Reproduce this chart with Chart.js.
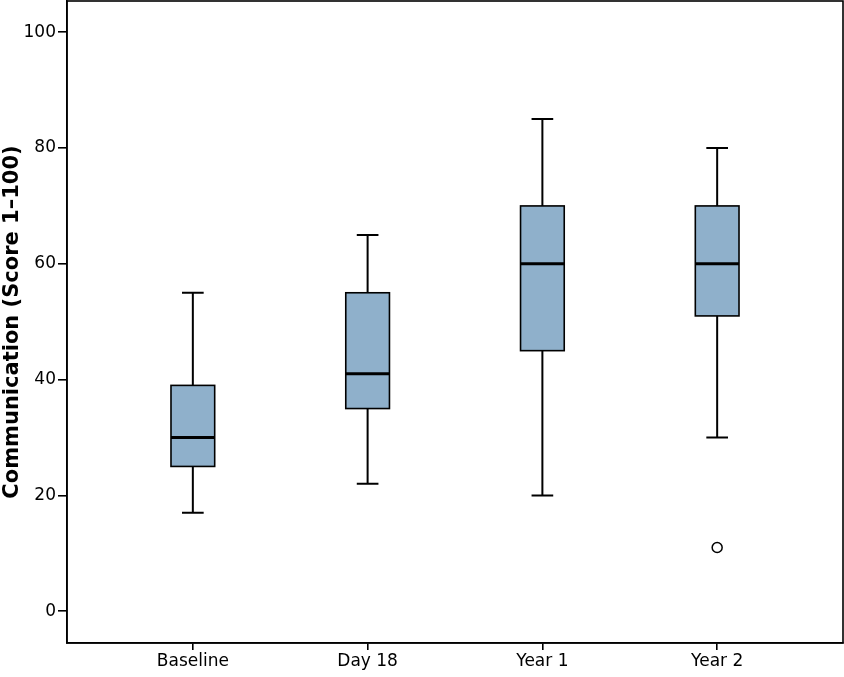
<!DOCTYPE html>
<html>
<head>
<meta charset="utf-8">
<script src="https://cdn.jsdelivr.net/npm/chart.js@4.4.1/dist/chart.umd.min.js"></script>
<style>
  html, body { margin: 0; padding: 0; background: #fff; }
  #wrap { width: 844px; height: 677px; }
</style>
</head>
<body>
<div id="wrap"><canvas id="chart"></canvas></div>
<script>
const categories = ["Baseline", "Day 18", "Year 1", "Year 2"];
const whiskerLow = [17, 22, 20, 30];
const q1 = [25, 35, 45, 51];
const median = [30, 41, 60, 60];
const q3 = [39, 55, 70, 70];
const whiskerHigh = [55, 65, 85, 80];
const outliers = [{ x: 3, y: 11 }];
const yTicks = [0, 20, 40, 60, 80, 100];

const boxFill = "#8fb0cb";
const boxHalf = 0.125;
const capHalf = 0.062;

// boxes and whiskers, positioned through the chart's scales
const boxPlot = {
  id: "boxPlot",
  beforeDatasetsDraw(chart) {
    const { ctx, scales: { x, y } } = chart;
    ctx.save();
    ctx.strokeStyle = "#000";
    categories.forEach((_, i) => {
      const cx = x.getPixelForValue(i);
      const left = x.getPixelForValue(i - boxHalf);
      const right = x.getPixelForValue(i + boxHalf);
      const capL = x.getPixelForValue(i - capHalf);
      const capR = x.getPixelForValue(i + capHalf);
      const yLo = y.getPixelForValue(whiskerLow[i]);
      const yQ1 = y.getPixelForValue(q1[i]);
      const yMed = y.getPixelForValue(median[i]);
      const yQ3 = y.getPixelForValue(q3[i]);
      const yHi = y.getPixelForValue(whiskerHigh[i]);

      // whiskers
      ctx.lineWidth = 2;
      ctx.beginPath();
      ctx.moveTo(cx, yHi); ctx.lineTo(cx, yQ3);
      ctx.moveTo(cx, yQ1); ctx.lineTo(cx, yLo);
      ctx.moveTo(capL, yHi); ctx.lineTo(capR, yHi);
      ctx.moveTo(capL, yLo); ctx.lineTo(capR, yLo);
      ctx.stroke();

      // box
      ctx.fillStyle = boxFill;
      ctx.fillRect(left, yQ3, right - left, yQ1 - yQ3);
      ctx.lineWidth = 1.6;
      ctx.strokeRect(left, yQ3, right - left, yQ1 - yQ3);

      // median
      ctx.lineWidth = 3;
      ctx.beginPath();
      ctx.moveTo(left, yMed); ctx.lineTo(right, yMed);
      ctx.stroke();
    });
    ctx.restore();
  },
  afterDraw(chart) {
    const { ctx, chartArea: a } = chart;
    ctx.save();
    ctx.strokeStyle = "#000";
    ctx.lineWidth = 1.6;
    ctx.strokeRect(a.left, a.top, a.right - a.left, a.bottom - a.top);
    ctx.restore();
  }
};

new Chart(document.getElementById("chart"), {
  type: "scatter",
  data: {
    datasets: [{
      label: "Outliers",
      data: outliers,
      pointStyle: "circle",
      pointRadius: 5,
      pointHoverRadius: 5,
      pointBackgroundColor: "#fff",
      pointBorderColor: "#000",
      pointBorderWidth: 1.5
    }]
  },
  options: {
    responsive: true,
    maintainAspectRatio: false,
    animation: false,
    layout: { autoPadding: false, padding: { top: 1, right: 1, left: 0, bottom: 0 } },
    plugins: {
      legend: { display: false },
      tooltip: { enabled: false }
    },
    scales: {
      x: {
        type: "linear",
        min: -0.72,
        max: 3.72,
        afterBuildTicks: (s) => { s.ticks = categories.map((_, i) => ({ value: i })); },
        afterFit: (s) => { s.height = 34; s.paddingLeft = 0; s.paddingRight = 0; },
        ticks: {
          callback: (v) => categories[v],
          color: "#000",
          font: { family: "DejaVu Sans", size: 17 },
          padding: 1,
          maxRotation: 0
        },
        grid: { drawOnChartArea: false, drawTicks: true, tickLength: 7, color: "#000", lineWidth: 1.6 },
        border: { display: true, color: "#000", width: 1.6 }
      },
      y: {
        min: -5.5,
        max: 105.4,
        afterBuildTicks: (s) => { s.ticks = yTicks.map((v) => ({ value: v })); },
        afterFit: (s) => { s.width = 67; s.paddingTop = 0; s.paddingBottom = 0; },
        ticks: {
          color: "#000",
          font: { family: "DejaVu Sans", size: 17 },
          padding: 2
        },
        grid: { drawOnChartArea: false, drawTicks: true, tickLength: 9, color: "#000", lineWidth: 1.6 },
        border: { display: true, color: "#000", width: 1.6 },
        title: {
          display: true,
          text: "Communication (Score 1–100)",
          color: "#000",
          font: { family: "DejaVu Sans", size: 21, weight: "bold" },
          padding: { top: 0, bottom: 0 }
        }
      }
    }
  },
  plugins: [boxPlot]
});
</script>
</body>
</html>
